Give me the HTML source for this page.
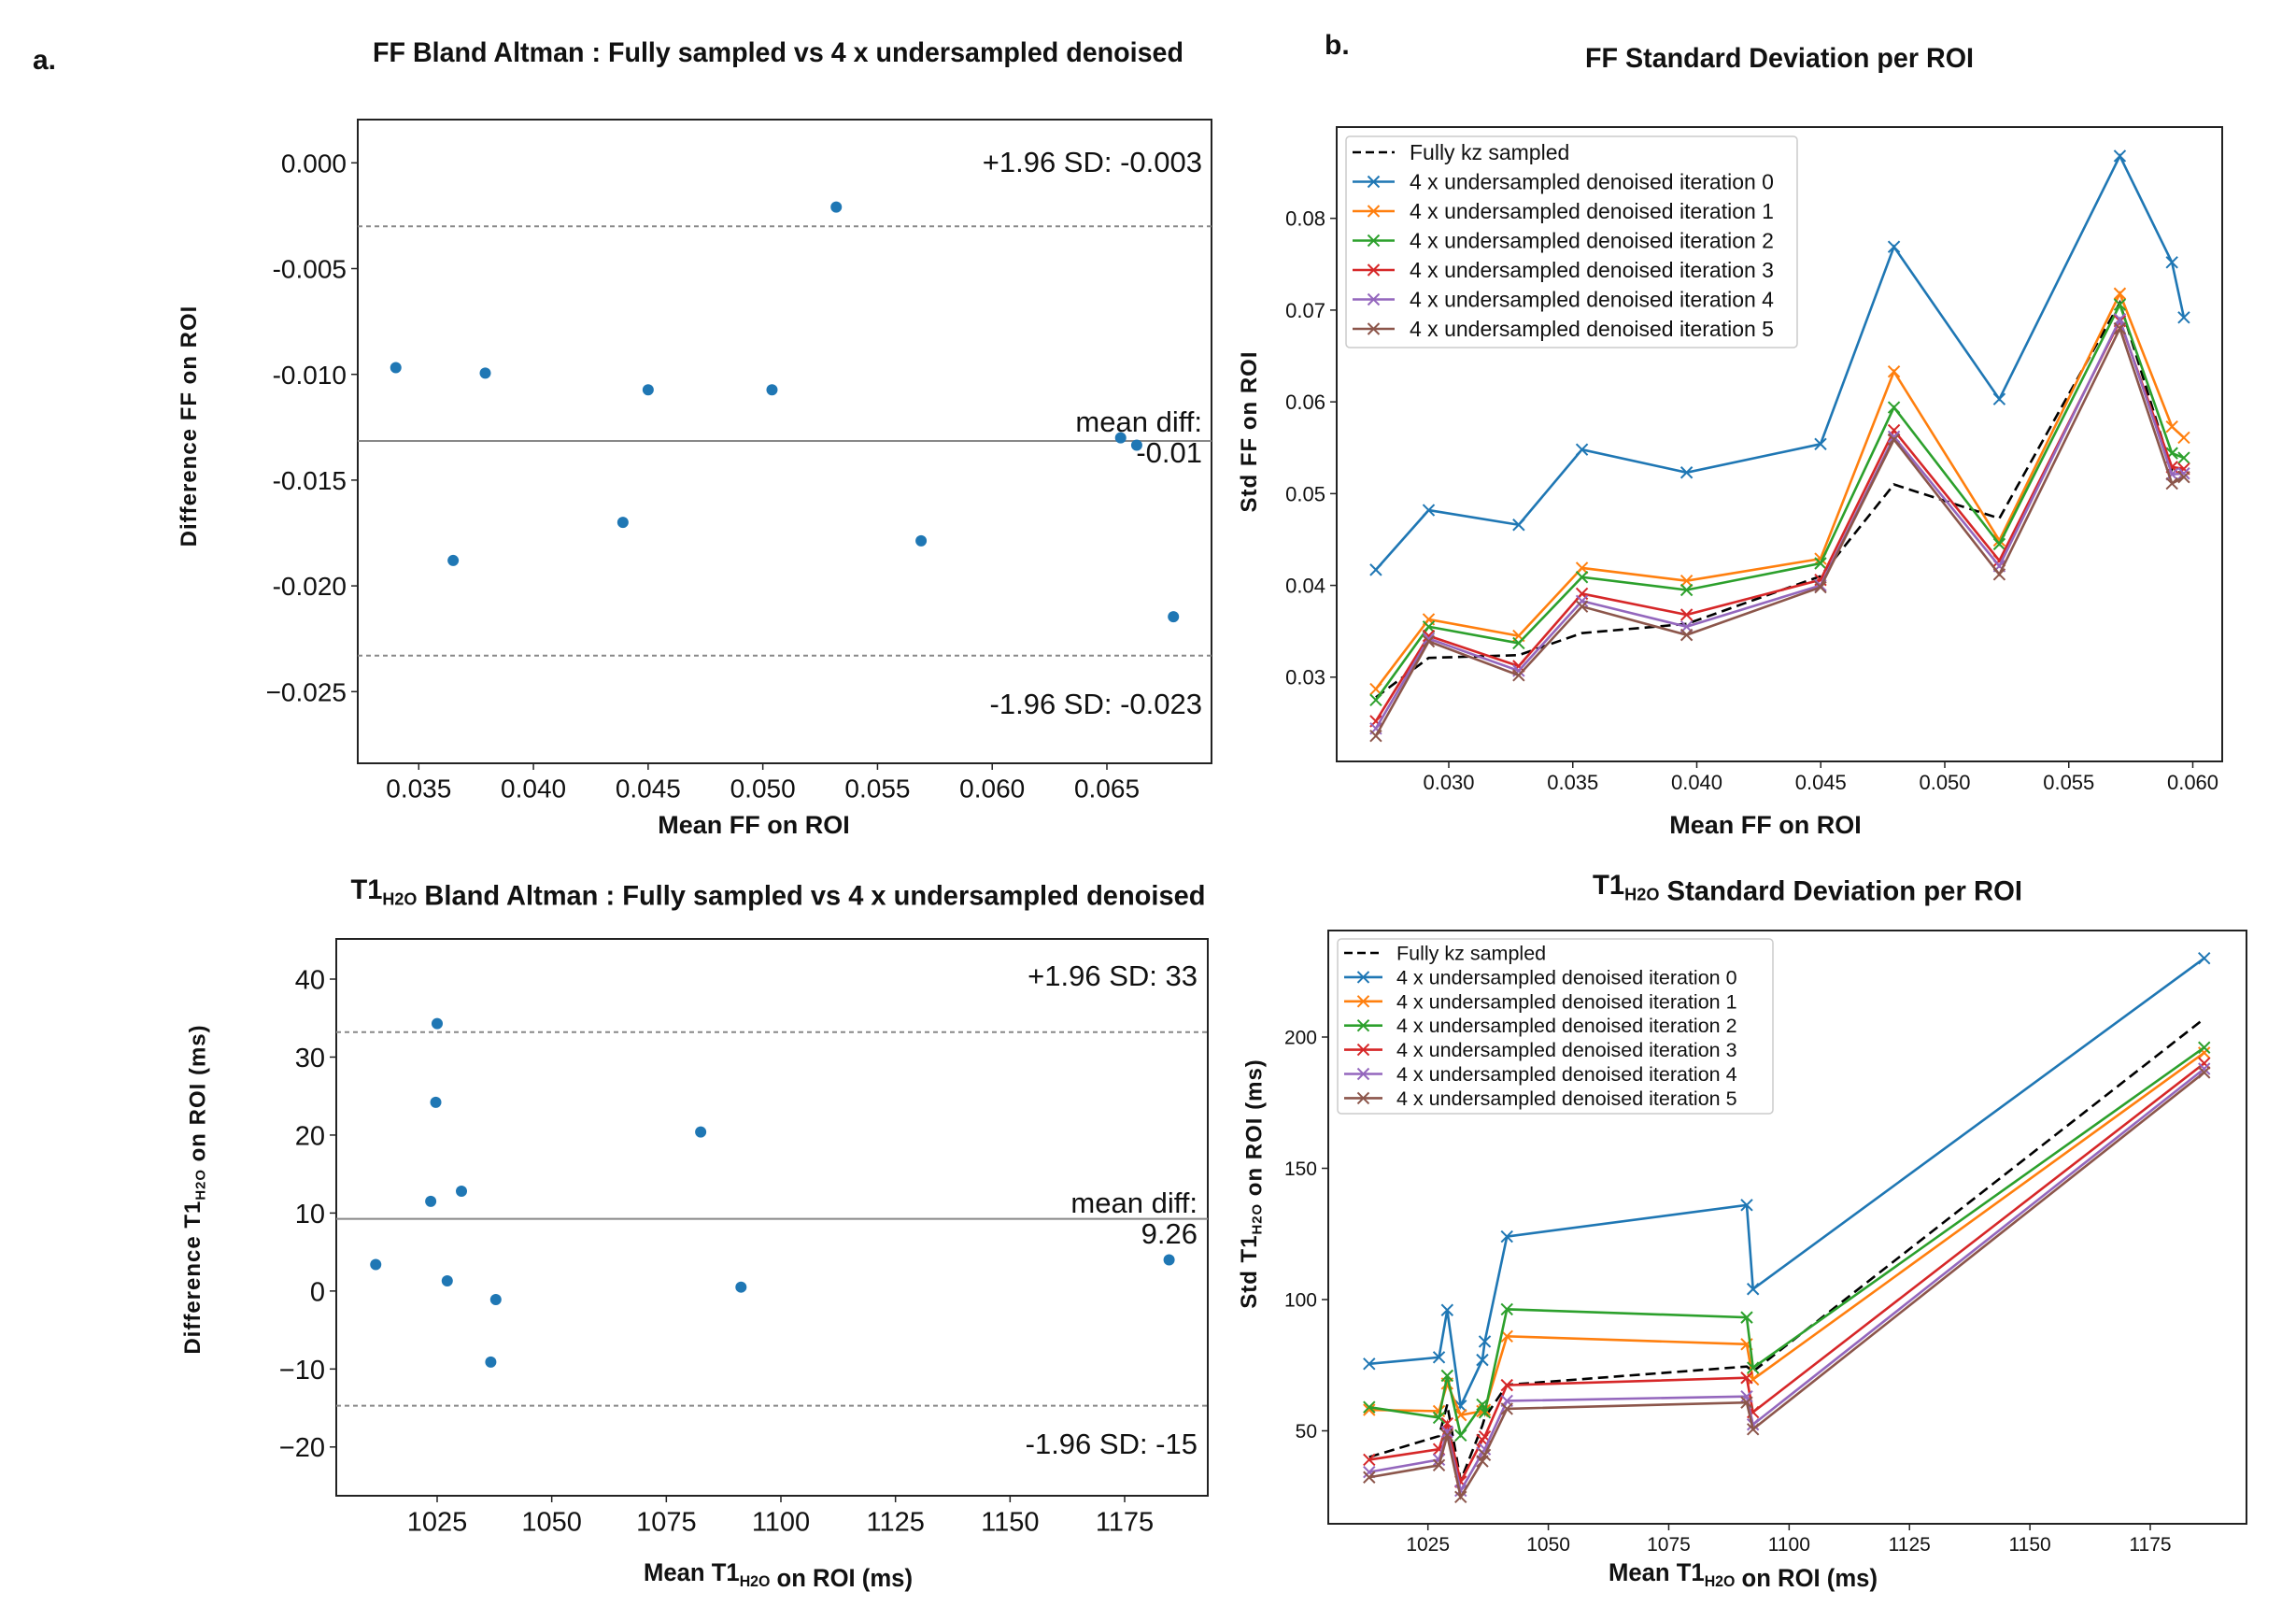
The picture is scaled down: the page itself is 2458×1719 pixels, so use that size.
<!DOCTYPE html>
<html><head><meta charset="utf-8"><style>
html,body{margin:0;padding:0;background:#fff;}
svg{display:block;}
text{font-family:"Liberation Sans Narrow","Liberation Sans",sans-serif;fill:#111;}
.b{font-weight:bold;}
</style></head><body>
<svg id="fig" width="2458" height="1719" viewBox="0 0 2458 1719" xmlns="http://www.w3.org/2000/svg"></svg>
<script>
// ---------- Data: panel a (FF Bland-Altman) ----------
const baFFMean = [0.0340,0.0365,0.0379,0.0439,0.0450,0.0504,0.0532,0.0569,0.0656,0.0663,0.0679];
const baFFDiff = [-0.00968,-0.0188,-0.00994,-0.0170,-0.01073,-0.01073,-0.00209,-0.01787,-0.0130,-0.01335,-0.02146];
const baFFLines = [-0.003,-0.01315,-0.0233];
const baFFXTicks = ["0.035","0.040","0.045","0.050","0.055","0.060","0.065"];
const baFFYTicks = ["0.000","-0.005","-0.010","-0.015","-0.020","\u22120.025"];
// ---------- Data: panel c (T1 Bland-Altman) ----------
const baT1Mean = [1011.6,1023.6,1024.7,1025.0,1027.2,1030.3,1036.7,1037.8,1082.5,1091.3,1184.7];
const baT1Diff = [3.4,11.5,24.2,34.3,1.3,12.8,-9.1,-1.1,20.4,0.5,4.0];
const baT1Lines = [33.2,9.26,-14.7];
const baT1XTicks = ["1025","1050","1075","1100","1125","1150","1175"];
const baT1YTicks = ["40","30","20","10","0","\u221210","\u221220"];
// ---------- Data: panel b (FF std) ----------
const ffX = [0.02706,0.02919,0.03282,0.03537,0.03959,0.04499,0.04795,0.0522,0.05706,0.05916,0.05964];
const ffFull = [0.0278,0.0321,0.0324,0.0348,0.0358,0.0410,0.0510,0.0473,0.0708,0.0525,0.0522];
const ffIt0 = [0.0417,0.0482,0.0466,0.0548,0.0523,0.0554,0.0769,0.0603,0.0868,0.0752,0.0692];
const ffIt1 = [0.0287,0.0363,0.0345,0.0419,0.0405,0.0429,0.0633,0.0449,0.0718,0.0573,0.0561];
const ffIt2 = [0.0275,0.0355,0.0337,0.0409,0.0395,0.0424,0.0594,0.0445,0.0706,0.0544,0.0539];
const ffIt3 = [0.0252,0.0345,0.0312,0.0391,0.0368,0.0406,0.0569,0.0427,0.0688,0.0529,0.0527];
const ffIt4 = [0.0244,0.0342,0.0307,0.0383,0.0355,0.0400,0.0562,0.0421,0.0690,0.0521,0.0522];
const ffIt5 = [0.0236,0.0339,0.0302,0.0377,0.0346,0.0398,0.0559,0.0412,0.0680,0.0511,0.0518];
const ffXTicks = ["0.030","0.035","0.040","0.045","0.050","0.055","0.060"];
const ffYTicks = ["0.03","0.04","0.05","0.06","0.07","0.08"];
// ---------- Data: panel d (T1 std) ----------
const t1X = [1012.8,1027.3,1029.0,1031.8,1036.3,1036.8,1041.4,1091.2,1092.5,1186.2];
const t1Full = [40,48,60,31,52,55,67.5,74.5,72.6,207];
const t1It0 = [75.5,78,96,59.5,77,84,124,136,104,230];
const t1It1 = [58,57.5,68,56,57.5,58,86,83,69.6,194];
const t1It2 = [59,55,71,48.3,60,57,96.3,93.2,74,196];
const t1It3 = [39,43,52.8,30.6,46.5,47.8,67.4,70.2,57.1,190];
const t1It4 = [34.3,39,49.6,27.2,41.6,43,61.4,63.1,52.4,187.9];
const t1It5 = [32.3,36.9,48.3,24.8,38.4,40.8,58.4,60.8,50.6,186.5];
const t1XTicks = ["1025","1050","1075","1100","1125","1150","1175"];
const t1YTicks = ["50","100","150","200"];
const legendLabels = ["Fully kz sampled","4 x undersampled denoised iteration 0","4 x undersampled denoised iteration 1","4 x undersampled denoised iteration 2","4 x undersampled denoised iteration 3","4 x undersampled denoised iteration 4","4 x undersampled denoised iteration 5"];

const colors = ["#000","#1f77b4","#ff7f0e","#2ca02c","#d62728","#9467bd","#8c564b"];
const NS = "http://www.w3.org/2000/svg";
const svg = document.getElementById("fig");
function el(tag, attrs, parent, txt){
  const e = document.createElementNS(NS, tag);
  for (const k in attrs) e.setAttribute(k, attrs[k]);
  if (txt !== undefined) e.textContent = txt;
  (parent||svg).appendChild(e);
  return e;
}
function lin(d0,d1,p0,p1){ return v => p0 + (v-d0)/(d1-d0)*(p1-p0); }

function frame(g, L,T,R,B){
  const r = el("rect",{x:L,y:T,width:R-L,height:B-T,fill:"none",stroke:"#222","stroke-width":2},g);
  
  
}
function xticks(g, labels, vals, sx, B, fs, name){
  labels.forEach((t,i)=>{
    const x = sx(vals[i]);
    el("line",{x1:x,x2:x,y1:B,y2:B+7,stroke:"#222","stroke-width":1.5},g);
    const tx = el("text",{x:x,y:B+7+fs*1.05,"font-size":fs,"text-anchor":"middle"},g,t);
    
    
  });
}
function yticks(g, labels, vals, sy, L, fs, name){
  labels.forEach((t,i)=>{
    const y = sy(vals[i]);
    el("line",{x1:L-7,x2:L,y1:y,y2:y,stroke:"#222","stroke-width":1.5},g);
    const tx = el("text",{x:L-12,y:y+fs*0.36,"font-size":fs,"text-anchor":"end"},g,t);
    
    
  });
}
function title(g, x, y, parts, fs, len, name){
  const t = el("text",{x:x,y:y,"font-size":fs,"text-anchor":"middle",class:"b",textLength:len,lengthAdjust:"spacingAndGlyphs"},g);
  
  
  parts.forEach(p=>{
    if (typeof p === "string") el("tspan",{},t,p);
    else { el("tspan",{"font-size":fs*0.62,dy:fs*0.22},t,p.sub); el("tspan",{dy:-fs*0.22},t,""); }
  });
  return t;
}
function ylabel(g, x, y, parts, fs, name){
  const t = el("text",{x:0,y:0,"font-size":fs,"text-anchor":"middle",class:"b",transform:`translate(${x},${y}) rotate(-90)`,style:"font-family:'Liberation Sans',sans-serif;letter-spacing:1px"},g);
  
  
  parts.forEach(p=>{
    if (typeof p === "string") el("tspan",{},t,p);
    else { el("tspan",{"font-size":fs*0.62,dy:fs*0.22},t,p.sub); el("tspan",{dy:-fs*0.22},t,""); }
  });
}
function xmark(g, x, y, s, c){
  el("path",{d:`M${x-s},${y-s}L${x+s},${y+s}M${x-s},${y+s}L${x+s},${y-s}`,stroke:c,"stroke-width":2,fill:"none"},g);
}

// ---------- Panel a ----------
(function(){
  const g = el("g",{});
  
  
  const L=383,T=128,R=1297,B=817;
  const sx = lin(0.035,0.065,448.3,1185), sy = lin(0,-0.025,174.3,740.3);
  const pl = el("text",{x:35,y:74,"font-size":30,class:"b"},g,"a.");
  
  
  title(g, 833, 66, ["FF Bland Altman : Fully sampled vs 4 x undersampled denoised"], 30, 868, 'ff-bland-altman-title');
  frame(g,L,T,R,B);
  xticks(g, baFFXTicks, baFFXTicks.map(Number), sx, B, 28, 'x');
  yticks(g, baFFYTicks, [0,-0.005,-0.01,-0.015,-0.02,-0.025], sy, L, 28, 'y');
  baFFLines.forEach((v,i)=>{
    const ln = el("line",{x1:L,x2:R,y1:sy(v),y2:sy(v),stroke:"#888","stroke-width":2,"stroke-dasharray":i===1?"none":"5,4"},g);
    
    
  });
  baFFMean.forEach((m,i)=>{
    const c = el("circle",{cx:sx(m),cy:sy(baFFDiff[i]),r:6,fill:"#1f77b4"},g);
    
    
  });
  const ann = [["+1.96 SD: -0.003",184],["mean diff:",462],["-0.01",495],["-1.96 SD: -0.023",764]];
  ann.forEach(a=>{ const t=el("text",{x:1287,y:a[1],"font-size":31,"text-anchor":"end"},g,a[0]);
      });
  ylabel(g, 210, 456, ["Difference  FF  on ROI"], 24, 'y-axis-title');
  const xl = el("text",{x:807,y:892,"font-size":27,"text-anchor":"middle",class:"b"},g,"Mean FF on ROI");
   
})();

// ---------- Panel c ----------
(function(){
  const g = el("g",{});
  
  
  const L=360,T=1005,R=1293,B=1601;
  const sx = lin(1025,1175,468,1204), sy = lin(40,-20,1048,1548.8);
  title(g, 833, 962, ["T1",{sub:"H2O"}," Bland Altman : Fully sampled vs 4 x undersampled denoised"], 30, 915, 't1-bland-altman-title');
  frame(g,L,T,R,B);
  xticks(g, baT1XTicks, baT1XTicks.map(Number), sx, B, 29, 'x');
  yticks(g, baT1YTicks, [40,30,20,10,0,-10,-20], sy, L, 29, 'y');
  baT1Lines.forEach((v,i)=>{
    const ln = el("line",{x1:L,x2:R,y1:sy(v),y2:sy(v),stroke:"#888","stroke-width":2,"stroke-dasharray":i===1?"none":"5,4"},g);
    
    
  });
  baT1Mean.forEach((m,i)=>{
    const c = el("circle",{cx:sx(m),cy:sy(baT1Diff[i]),r:6,fill:"#1f77b4"},g);
    
    
  });
  const ann = [["+1.96 SD: 33",1055],["mean diff:",1298],["9.26",1331],["-1.96 SD: -15",1556]];
  ann.forEach(a=>{ const t=el("text",{x:1282,y:a[1],"font-size":31,"text-anchor":"end"},g,a[0]);
      });
  ylabel(g, 214, 1273, ["Difference  T1",{sub:"H2O"}," on ROI (ms)"], 24, 'y-axis-title');
  title(g, 833, 1692, ["Mean T1",{sub:"H2O"}," on ROI (ms)"], 27, 288, 'x-axis-title');
})();

// ---------- line panels ----------
function linePanel(cfg){
  const g = el("g",{});
  
  
  frame(g,cfg.L,cfg.T,cfg.R,cfg.B);
  xticks(g, cfg.xt, cfg.xt.map(Number), cfg.sx, cfg.B, cfg.fs, 'x');
  yticks(g, cfg.yt, cfg.yt.map(Number), cfg.sy, cfg.L, cfg.fs, 'y');
  cfg.series.forEach((ys,si)=>{
    const pts = cfg.xs.map((x,i)=>cfg.sx(x)+","+cfg.sy(ys[i])).join(" ");
    const pl = el("polyline",{points:pts,fill:"none",stroke:colors[si],"stroke-width":2.6,"stroke-dasharray":si===0?"11,6":"none"},g);
    
    
    if (si>0) cfg.xs.forEach((x,i)=>xmark(g,cfg.sx(x),cfg.sy(ys[i]),6,colors[si]));
  });
  const lg = cfg.lg;
  const box = el("rect",{x:lg.x,y:lg.y,width:lg.w,height:lg.h,rx:4,fill:"#fff","fill-opacity":0.85,stroke:"#ccc","stroke-width":1.5},g);
  
  
  legendLabels.forEach((lab,i)=>{
    const y = lg.y0 + i*lg.dy;
    const e = el("g",{},g);
    
    
    el("line",{x1:lg.lx0,x2:lg.lx1,y1:y,y2:y,stroke:colors[i],"stroke-width":2.6,"stroke-dasharray":i===0?"9,5":"none"},e);
    if (i>0) xmark(e,(lg.lx0+lg.lx1)/2,y,6,colors[i]);
    el("text",{x:lg.tx,y:y+lg.fs*0.35,"font-size":lg.fs},e,lab);
  });
}
// Panel b
(function(){
  const pl = el("text",{x:1418,y:58,"font-size":30,class:"b"},svg,"b.");
   
  title(svg, 1905, 72, ["FF Standard Deviation per ROI"], 30, 416, 'ff-std-title');
  linePanel({name:'ff-std-panel',L:1431,T:136,R:2379,B:815,
    sx:lin(0.030,0.060,1551,2347.5), sy:lin(0.08,0.03,233.7,724.8), fs:22,
    xt:ffXTicks, yt:ffYTicks, xs:ffX,
    series:[ffFull,ffIt0,ffIt1,ffIt2,ffIt3,ffIt4,ffIt5],
    lg:{x:1441,y:146,w:483,h:226,y0:163,dy:31.5,lx0:1448,lx1:1493,tx:1509,fs:23}});
  ylabel(svg, 1345, 462, ["Std  FF on ROI"], 24, 'y-axis-title');
  const xl = el("text",{x:1890,y:892,"font-size":27,"text-anchor":"middle",class:"b"},svg,"Mean FF on ROI");
   
})();
// Panel d
(function(){
  title(svg, 1935, 957, ["T1",{sub:"H2O"}," Standard Deviation per ROI"], 30, 460, 't1-std-title');
  linePanel({name:'t1-std-panel',L:1422,T:996,R:2405,B:1631,
    sx:lin(1025,1175,1528.7,2302), sy:lin(200,50,1110,1531.5), fs:21,
    xt:t1XTicks, yt:t1YTicks, xs:t1X,
    series:[t1Full,t1It0,t1It1,t1It2,t1It3,t1It4,t1It5],
    lg:{x:1432,y:1005,w:466,h:187,y0:1020,dy:25.9,lx0:1439,lx1:1480,tx:1495,fs:21.5}});
  ylabel(svg, 1345, 1267, ["Std  T1",{sub:"H2O"}," on ROI (ms)"], 24, 'y-axis-title');
  title(svg, 1866, 1692, ["Mean T1",{sub:"H2O"}," on ROI (ms)"], 27, 288, 'x-axis-title');
})();
</script>
</body></html>
